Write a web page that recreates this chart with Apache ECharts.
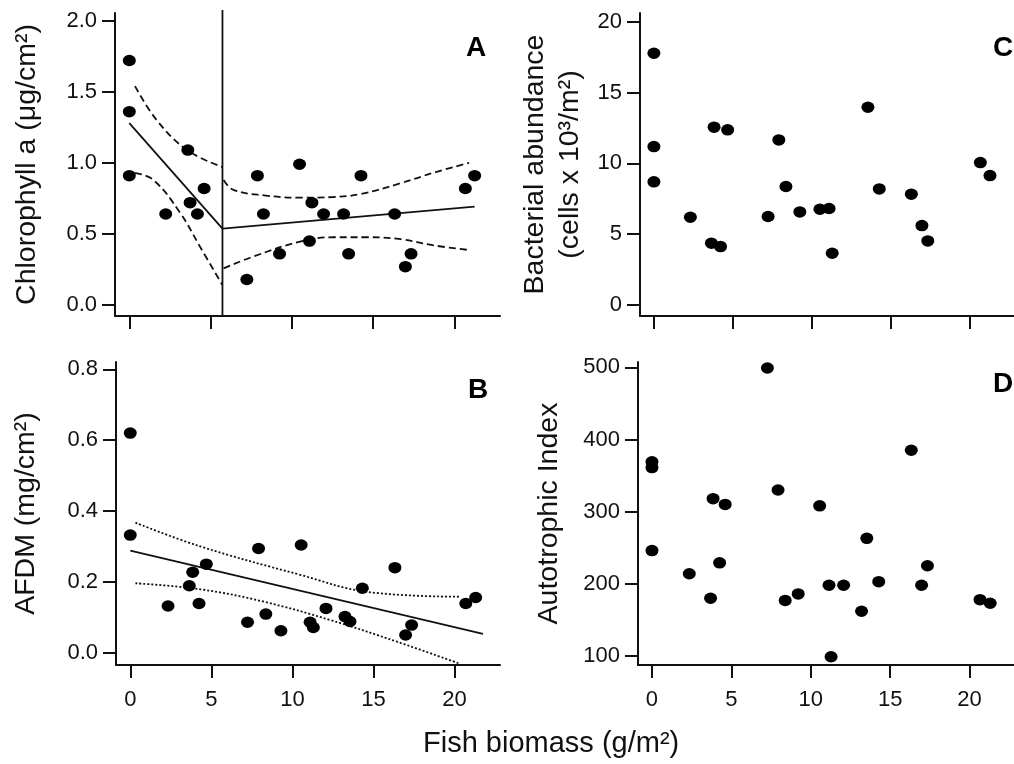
<!DOCTYPE html>
<html>
<head>
<meta charset="utf-8">
<script src="https://cdn.jsdelivr.net/npm/echarts@6/dist/echarts.min.js"></script>
<style>
html,body{margin:0;padding:0;background:#fff}
#chart{width:1014px;height:764px}
</style>
</head>
<body>
<div id="chart"></div>
<script>
// ---- data ----
var xTicks = [0, 5, 10, 15, 20];

// A: chlorophyll a
var chlFish = [0, 0, 0, 2.24, 3.6, 3.74, 4.19, 4.6, 7.23, 7.88, 8.25, 9.24, 10.47, 11.08, 11.23, 11.95, 13.18, 13.49, 14.25, 16.32, 16.98, 17.33, 20.67, 21.24];
var chlVal  = [1.72, 1.36, 0.91, 0.64, 1.09, 0.72, 0.64, 0.82, 0.18, 0.91, 0.64, 0.36, 0.99, 0.45, 0.72, 0.64, 0.64, 0.36, 0.91, 0.64, 0.27, 0.36, 0.82, 0.91];
var chlTicks = [0, 0.5, 1.0, 1.5, 2.0];
var chlBreak = 5.73;
var chlFitLeft  = [[0, 1.28], [5.73, 0.537]];
var chlFitRight = [[5.73, 0.537], [21.24, 0.692]];
var chlUpLeft  = [[0.35, 1.54], [1.69, 1.30], [3.56, 1.09], [5.73, 0.97]];
var chlLoLeft  = [[0.35, 0.93], [1.48, 0.88], [3.12, 0.65], [4.35, 0.41], [5.73, 0.14]];
var chlUpRight = [[5.8, 0.88], [6.4, 0.81], [8.4, 0.77], [10.5, 0.755], [12.55, 0.76], [14.2, 0.78], [16.7, 0.857], [18.7, 0.93], [20.9, 1.0]];
var chlLoRight = [[5.8, 0.258], [7.6, 0.34], [10.5, 0.446], [12.55, 0.477], [14.6, 0.477], [16.7, 0.463], [18.7, 0.42], [20.9, 0.387]];

// B: AFDM
var afdmFish = [0, 0, 2.33, 3.64, 3.85, 4.24, 4.69, 7.23, 7.91, 8.36, 9.29, 10.54, 11.09, 11.29, 12.07, 13.24, 13.55, 14.31, 16.32, 16.98, 17.35, 20.69, 21.3];
var afdmVal  = [0.62, 0.332, 0.132, 0.189, 0.227, 0.139, 0.25, 0.086, 0.294, 0.109, 0.062, 0.304, 0.086, 0.071, 0.125, 0.102, 0.088, 0.182, 0.24, 0.05, 0.078, 0.139, 0.156];
var afdmTicks = [0, 0.2, 0.4, 0.6, 0.8];
var afdmFit = [[0, 0.288], [21.75, 0.053]];
var afdmUp = [[0.32, 0.367], [4.32, 0.30], [10.47, 0.22], [14.57, 0.172], [20.3, 0.158]];
var afdmLo = [[0.32, 0.196], [4.32, 0.179], [8.24, 0.144], [12.35, 0.092], [16.45, 0.031], [20.25, -0.03]];

// C: bacterial abundance
var bactFish = [0, 0, 0, 2.31, 3.64, 3.81, 4.22, 4.67, 7.23, 7.91, 8.36, 9.24, 10.51, 11.09, 11.29, 13.55, 14.27, 16.3, 16.97, 17.34, 20.67, 21.28];
var bactVal  = [17.77, 11.18, 8.69, 6.19, 4.36, 12.55, 4.12, 12.36, 6.24, 11.65, 8.36, 6.57, 6.76, 6.81, 3.65, 13.96, 8.19, 7.82, 5.6, 4.52, 10.05, 9.13];
var bactTicks = [0, 5, 10, 15, 20];

// D: autotrophic index
var aiFish = [0, 0, 0, 2.35, 3.69, 3.85, 4.26, 4.61, 7.27, 7.94, 8.39, 9.21, 10.56, 11.15, 11.28, 12.07, 13.2, 13.53, 14.28, 16.33, 16.98, 17.35, 20.66, 21.3];
var aiVal  = [369, 361, 246, 214, 180, 318, 229, 310, 499, 330, 177, 186, 308, 198, 99, 198, 162, 263, 203, 385, 198, 225, 178, 173];
var aiTicks = [100, 200, 300, 400, 500];

// ---- helpers ----
var FONT = '"Liberation Sans", Arial, sans-serif';
var INK = '#111';

function zip(xs, ys) {
  var out = [];
  for (var i = 0; i < xs.length; i++) out.push([xs[i], ys[i]]);
  return out;
}

function xAxisFor(grid, showLabels) {
  return {
    type: 'value', gridIndex: grid, min: -0.88, max: 22.8,
    axisLine: { show: true, onZero: false, lineStyle: { color: INK, width: 2 } },
    axisTick: { show: true, customValues: xTicks, length: 13, lineStyle: { color: INK, width: 2 } },
    axisLabel: { show: showLabels, customValues: xTicks, margin: 24, fontSize: 22, color: '#111', fontFamily: FONT },
    splitLine: { show: false }
  };
}

function yAxisFor(grid, min, max, ticks, digits, name, gap) {
  return {
    type: 'value', gridIndex: grid, min: min, max: max,
    axisLine: { show: true, onZero: false, lineStyle: { color: INK, width: 2 } },
    axisTick: { show: true, customValues: ticks, length: 13, lineStyle: { color: INK, width: 2 } },
    axisLabel: {
      customValues: ticks, margin: 18, fontSize: 22, color: '#111', fontFamily: FONT,
      formatter: function (v) { return v.toFixed(digits); }
    },
    splitLine: { show: false },
    name: name, nameLocation: 'middle', nameRotate: 90, nameGap: gap,
    nameTextStyle: { fontSize: 28.5, color: '#111', fontFamily: FONT, lineHeight: 35 }
  };
}

function dots(grid, data) {
  return {
    type: 'scatter', xAxisIndex: grid, yAxisIndex: grid, data: data,
    symbol: 'circle', symbolSize: [13, 11.5], itemStyle: { color: '#000', opacity: 1 }, z: 3
  };
}

function line(grid, data, dash, smooth) {
  return {
    type: 'line', xAxisIndex: grid, yAxisIndex: grid, data: data,
    symbol: 'none', smooth: smooth ? 0.4 : false, clip: true,
    lineStyle: { color: INK, width: 1.8, type: dash === 'dash' ? [7, 4] : (dash === 'dot' ? [2, 2] : 'solid') },
    z: 2
  };
}

var chart = echarts.init(document.getElementById('chart'));

var option = {
  backgroundColor: '#fff',
  animation: false,
  grid: [
    { left: 115, top: 13, width: 385, height: 303 },
    { left: 116, top: 362, width: 384, height: 303 },
    { left: 640, top: 13, width: 385, height: 303 },
    { left: 638, top: 362, width: 387, height: 303 }
  ],
  xAxis: [xAxisFor(0, false), xAxisFor(1, true), xAxisFor(2, false), xAxisFor(3, true)],
  yAxis: [
    yAxisFor(0, -0.077, 2.054, chlTicks, 1, 'Chlorophyll a (\u03bcg/cm\u00b2)', 70),
    yAxisFor(1, -0.0347, 0.8206, afdmTicks, 1, 'AFDM (mg/cm\u00b2)', 72),
    yAxisFor(2, -0.78, 20.61, bactTicks, 0, 'Bacterial abundance\n(cells x 10\u00b3/m\u00b2)', 52),
    yAxisFor(3, 87.5, 507.3, aiTicks, 0, 'Autotrophic Index', 71)
  ],
  graphic: [
    { type: 'text', left: 466, top: 34, style: { text: 'A', font: 'bold 28px ' + FONT, fill: '#000' } },
    { type: 'text', left: 468, top: 376, style: { text: 'B', font: 'bold 28px ' + FONT, fill: '#000' } },
    { type: 'text', left: 993, top: 34, style: { text: 'C', font: 'bold 28px ' + FONT, fill: '#000' } },
    { type: 'text', left: 993, top: 370, style: { text: 'D', font: 'bold 28px ' + FONT, fill: '#000' } },
    { type: 'text', left: 423, top: 729, style: { text: 'Fish biomass (g/m\u00b2)', font: '29px ' + FONT, fill: '#111' } }
  ],
  series: [
    dots(0, zip(chlFish, chlVal)),
    line(0, chlFitLeft, 'solid'),
    line(0, chlFitRight, 'solid'),
    line(0, chlUpLeft, 'dash', true),
    line(0, chlLoLeft, 'dash', true),
    line(0, chlUpRight, 'dash', true),
    line(0, chlLoRight, 'dash', true),
    {
      type: 'line', xAxisIndex: 0, yAxisIndex: 0, symbol: 'none', clip: false,
      data: [[chlBreak, -0.077], [chlBreak, 2.075]],
      lineStyle: { color: INK, width: 1.8 }
    },
    dots(1, zip(afdmFish, afdmVal)),
    line(1, afdmFit, 'solid'),
    line(1, afdmUp, 'dot', true),
    line(1, afdmLo, 'dot', true),
    dots(2, zip(bactFish, bactVal)),
    dots(3, zip(aiFish, aiVal))
  ]
};

chart.setOption(option);
</script>
</body>
</html>
